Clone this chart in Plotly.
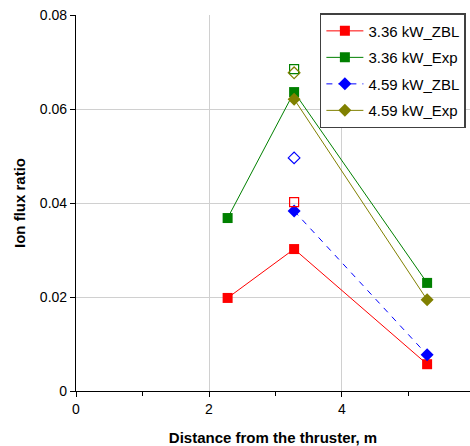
import plotly.graph_objects as go

x_336 = [2.28, 3.28, 5.28]
zbl_336 = [0.0198, 0.0302, 0.0057]
exp_336 = [0.0368, 0.0636, 0.0230]
x_459 = [3.28, 5.28]
zbl_459 = [0.0383, 0.0077]
exp_459 = [0.0621, 0.0194]

# open (unfilled) single points at x=3.28
x_open = [3.28]
zbl_336_open = [0.0402]
exp_336_open = [0.0685]
zbl_459_open = [0.0496]
exp_459_open = [0.0677]

names = ["3.36 kW_ZBL", "3.36 kW_Exp", "4.59 kW_ZBL", "4.59 kW_Exp"]
colors = ["#FF0000", "#008000", "#0000FF", "#808000"]

y_tickvals = [0, 0.02, 0.04, 0.06, 0.08]
y_ticktext = ["0", "0.02", "0.04", "0.06", "0.08"]
x_tickvals = [0, 2, 4]
x_ticktext = ["0", "2", "4"]

fig = go.Figure()

series = [
    (x_336, zbl_336, "square", "solid"),
    (x_336, exp_336, "square", "solid"),
    (x_459, zbl_459, "diamond", "dash"),
    (x_459, exp_459, "diamond", "solid"),
]
for i, (xs, ys, sym, dash) in enumerate(series):
    fig.add_trace(go.Scatter(
        x=xs, y=ys, name=names[i], mode="lines+markers",
        legendgroup=f"g{i}",
        line=dict(color=colors[i], width=1, dash=dash if dash == "solid" else "6px,6px"),
        marker=dict(symbol=sym, size=10, color=colors[i]),
    ))

opens = [
    (zbl_336_open, "square-open"),
    (exp_336_open, "square-open"),
    (zbl_459_open, "diamond-open"),
    (exp_459_open, "diamond-open"),
]
for i, (ys, sym) in enumerate(opens):
    fig.add_trace(go.Scatter(
        x=x_open, y=ys, mode="markers", showlegend=False,
        marker=dict(symbol=sym, size=9, color=colors[i], line=dict(width=1.2, color=colors[i])),
    ))

fig.update_layout(
    width=470, height=446,
    margin=dict(l=76, r=0, t=15, b=55),
    paper_bgcolor="white", plot_bgcolor="white",
    font=dict(family="Arial, Liberation Sans, sans-serif", size=14, color="black"),
    legend=dict(
        x=0.619, y=1.005, xanchor="left", yanchor="top",
        bgcolor="white", bordercolor="#404040", borderwidth=1.5,
        font=dict(size=15), traceorder="grouped", tracegroupgap=4,
        itemwidth=37,
    ),
    xaxis=dict(
        range=[0, 5.925], tickvals=x_tickvals, ticktext=x_ticktext,
        ticks="outside", ticklen=5, tickcolor="black",
        minor=dict(dtick=1, ticks="outside", ticklen=4, tickcolor="black", showgrid=False),
        showline=True, linecolor="black", linewidth=1.2,
        showgrid=True, gridcolor="#D0D0D0", zeroline=False,
        title=dict(text="<b>Distance from the thruster, m</b>", font=dict(size=15), standoff=17),
        tickfont=dict(size=14),
    ),
    yaxis=dict(
        range=[0, 0.08], tickvals=y_tickvals, ticktext=y_ticktext,
        ticks="outside", ticklen=5, tickcolor="black",
        showline=True, linecolor="black", linewidth=1.2,
        showgrid=True, gridcolor="#D0D0D0", zeroline=False,
        title=dict(text="<b>Ion flux ratio</b>", font=dict(size=15), standoff=10),
        tickfont=dict(size=14),
    ),
)

fig.write_html("out.html")
